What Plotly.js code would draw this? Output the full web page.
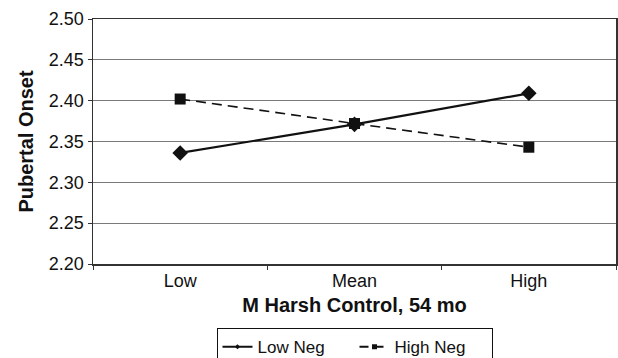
<!DOCTYPE html>
<html><head><meta charset="utf-8">
<script src="https://cdn.plot.ly/plotly-3.0.1.min.js"></script>
<style>html,body{margin:0;padding:0;background:#fff;overflow:hidden}#chart{width:618px;height:372px}</style>
</head><body><div id="chart"></div>
<script>
const categories = ["Low", "Mean", "High"];
const lowNeg = [2.336, 2.371, 2.409];
const highNeg = [2.402, 2.372, 2.343];
const yTicks = [2.20, 2.25, 2.30, 2.35, 2.40, 2.45, 2.50];
const seriesNames = ["Low Neg", "High Neg"];

const traces = [
  {x: categories, y: lowNeg, name: seriesNames[0], type: "scatter", mode: "lines+markers", showlegend: false,
   line: {color: "#111", width: 2.2}, marker: {symbol: "diamond", size: 12, color: "#111"}},
  {x: categories, y: highNeg, name: seriesNames[1], type: "scatter", mode: "lines+markers", showlegend: false,
   line: {color: "#111", width: 1.6, dash: "10px,6px"}, marker: {symbol: "square", size: 11, color: "#111"}},
  {x: [null], y: [null], name: seriesNames[0], type: "scatter", mode: "lines+markers",
   line: {color: "#111", width: 2}, marker: {symbol: "diamond", size: 4, color: "#111"}},
  {x: [null], y: [null], name: seriesNames[1], type: "scatter", mode: "lines+markers",
   line: {color: "#111", width: 2.2, dash: "9px,6px"}, marker: {symbol: "square", size: 5, color: "#111"}}
];
const layout = {
  width: 618, height: 372,
  margin: {l: 93, r: 2, t: 19, b: 108},
  paper_bgcolor: "#fff", plot_bgcolor: "#fff",
  font: {family: "Liberation Sans, Arial, sans-serif", color: "#111", size: 18},
  showlegend: true,
  legend: {orientation: "h", x: 0.50, xanchor: "center", y: -0.262, yanchor: "top",
           bordercolor: "#111", borderwidth: 1, font: {size: 17}, traceorder: "normal",
           entrywidth: 92, tracegroupgap: 0, itemwidth: 30},
  xaxis: {type: "category", range: [-0.5, 2.5], tickson: "boundaries", ticks: "outside", ticklen: 4, tickcolor: "#333",
          showline: true, linecolor: "#333", linewidth: 1.5, mirror: true, showgrid: false,
          tickfont: {size: 18},
          title: {text: "<b>M Harsh Control, 54 mo</b>", font: {size: 20}, standoff: 8}},
  yaxis: {range: [2.20, 2.50], tickvals: yTicks, ticktext: yTicks.map(v => v.toFixed(2)),
          ticks: "outside", ticklen: 4, tickcolor: "#333",
          showline: true, linecolor: "#333", linewidth: 1.5, mirror: true,
          showgrid: true, gridcolor: "#7a7a7a", gridwidth: 1, zeroline: false,
          tickfont: {size: 18},
          title: {text: "<b>Pubertal Onset</b>", font: {size: 20}, standoff: 10}}
};
Plotly.newPlot("chart", traces, layout, {displayModeBar: false, staticPlot: true});
</script></body></html>
